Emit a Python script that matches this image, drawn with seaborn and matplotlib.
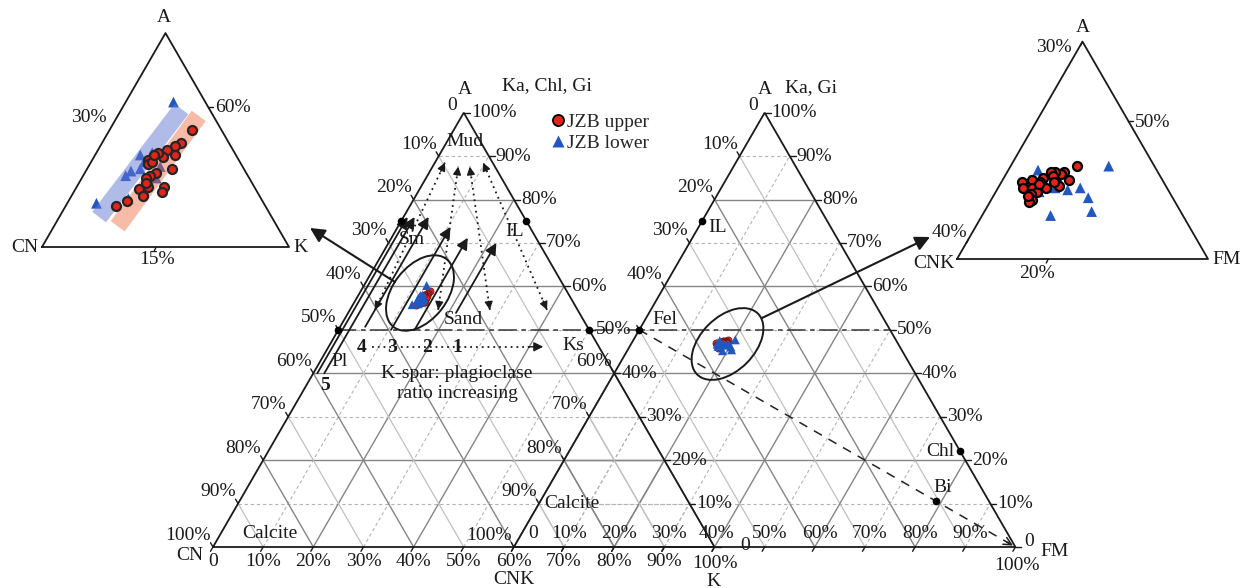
import numpy as np
import pandas as pd
import matplotlib
matplotlib.use("Agg")
import matplotlib.pyplot as plt
import seaborn as sns
from matplotlib.patches import Ellipse
from matplotlib.lines import Line2D

# ---------------- compositions (%) ----------------
# A-CN-K diagram
upper_A = [59.0, 58.4, 58.3, 58.1, 57.9, 57.8, 58.0, 57.7, 57.5, 57.6, 57.1, 57.3,
           57.0, 56.9, 56.6, 56.5, 56.4, 56.1, 56.5, 56.3, 55.9, 55.7, 57.9, 56.7]
upper_K = [13.8, 13.7, 13.5, 13.3, 13.7, 13.3, 13.0, 12.8, 12.9, 13.0, 13.4, 13.9,
           13.2, 13.1, 13.3, 13.4, 13.1, 13.4, 14.0, 14.0, 12.9, 12.6, 12.9, 13.2]
upper_CN = [27.2, 27.9, 28.2, 28.6, 28.4, 28.9, 29.0, 29.5, 29.6, 29.4, 29.5, 28.8,
            29.8, 30.0, 30.1, 30.1, 30.5, 30.5, 29.5, 29.7, 31.2, 31.7, 29.2, 30.1]
lower_A = [60.2, 55.8, 56.0, 57.0, 57.2, 57.3, 57.9, 57.6, 58.0, 57.4, 56.9, 56.4]
lower_K = [12.5, 11.8, 12.9, 12.3, 12.4, 12.7, 12.4, 12.7, 12.8, 13.4, 13.5, 13.3]
lower_CN = [27.3, 32.4, 31.1, 30.7, 30.4, 30.0, 29.7, 29.7, 29.2, 29.2, 29.6, 30.3]

# A-CNK-FM diagram
upper2_A = [47.7, 47.4, 47.3, 47.4, 47.4, 47.2, 46.9, 46.7, 47.0, 47.1, 46.9, 46.6,
            47.0, 46.9, 46.6, 46.6, 46.4, 46.3, 46.0, 45.9, 46.2, 46.8, 46.9]
upper2_FM = [18.9, 18.5, 18.4, 18.1, 17.9, 18.1, 18.4, 18.6, 18.9, 17.7, 17.7, 18.1,
             17.3, 16.9, 17.1, 17.5, 17.8, 17.6, 17.8, 17.7, 17.5, 17.7, 18.3]
upper2_CNK = [33.4, 34.1, 34.3, 34.5, 34.7, 34.7, 34.7, 34.7, 34.1, 35.2, 35.4, 35.3,
              35.7, 36.2, 36.3, 35.9, 35.8, 36.1, 36.2, 36.4, 36.3, 35.5, 34.8]
lower2_A = [47.7, 47.5, 47.0, 46.9, 46.4, 46.6, 46.5, 46.6, 46.1, 45.4, 45.2, 46.7, 46.2]
lower2_FM = [20.3, 17.3, 17.2, 17.7, 17.9, 18.5, 19.1, 19.6, 20.2, 20.7, 19.0, 17.2, 17.6]
lower2_CNK = [32.0, 35.2, 35.8, 35.4, 35.7, 34.9, 34.4, 33.8, 33.7, 33.9, 35.8, 36.1, 36.2]

# trend bands in the A-CN-K close-up (A, K at both ends)
band_lower_A = [55.2, 59.9]
band_lower_K = [12.2, 12.95]
band_upper_A = [54.8, 59.6]
band_upper_K = [13.1, 13.75]

# reference minerals (A, right-vertex share), fractions
acnk_minerals = {"Sm": (0.75, 0.0), "IL": (0.75, 0.25), "Pl": (0.5, 0.0), "Ks": (0.5, 0.5)}
acnkfm_minerals = {"IL": (0.75, 0.0), "Fel": (0.5, 0.0), "Chl": (0.22, 0.78), "Bi": (0.105, 0.79)}

# weathering trends (A, K) fractions: tail -> head
trend_A = [(0.40, 0.76), (0.40, 0.76), (0.507, 0.76), (0.50, 0.737), (0.50, 0.712), (0.539, 0.70)]
trend_K = [(0.008, 0.008), (0.022, 0.022), (0.05, 0.05), (0.105, 0.105), (0.152, 0.152), (0.215, 0.215)]
# sorting paths sand <-> mud (A, K) fractions: bottom, top
sort_A = [(0.546, 0.885), (0.546, 0.876), (0.546, 0.876), (0.546, 0.885)]
sort_K = [(0.050, 0.020), (0.176, 0.051), (0.279, 0.074), (0.393, 0.096)]

tick_pct = list(range(0, 101, 10))

# ---------------- helpers ----------------
S3 = np.sqrt(3) / 2
PX = 1 / 501.5          # one pixel in axis units
INK = "#1a1a1a"
RED = "#e3241b"
BLUE = "#2157c2"


def tri_xy(a, b, x0=0.0, y0=0.0, side=1.0):
    a = np.asarray(a, float)
    b = np.asarray(b, float)
    return x0 + side * (b + a / 2), y0 + side * a * S3


def P(px, py):
    return (px - 213) * PX, (547 - py) * PX


sns.set_theme(style="white")
plt.rcParams["font.family"] = ["Liberation Serif", "DejaVu Serif"]
FS = 14

fig = plt.figure(figsize=(12.41, 5.88), dpi=100)
ax = fig.add_axes([0, 0, 1, 1])
ax.set_xlim(-213 * PX, (1241 - 213) * PX)
ax.set_ylim(-41 * PX, 547 * PX)
ax.axis("off")


def txt(px, py, s, ha="center", va="center", **kw):
    x, y = P(px, py)
    ax.text(x, y, s, ha=ha, va=va, fontsize=kw.pop("fontsize", FS), color=INK, zorder=8, **kw)


# ---------------- main ternary grids ----------------
def grid(x0):
    for i in range(1, 10):
        t = i / 10
        if i % 2 == 0:
            solid = dict(color="#858585", lw=1.0, zorder=1)
            dash = solid
        else:
            solid = dict(color="#c0c0c0", lw=0.9, zorder=1)
            dash = dict(color="#b4b4b4", lw=0.8, ls=(0, (3, 2.5)), zorder=1)
        x, y = tri_xy([t, t], [0, 1 - t], x0)
        ax.plot(x, y, **dash)
        x, y = tri_xy([0, 1 - t], [t, t], x0)
        ax.plot(x, y, **dash)
        x, y = tri_xy([1 - t, 0], [0, 1 - t], x0)
        ax.plot(x, y, **solid)
    x, y = tri_xy([0, 1, 0, 0], [0, 0, 1, 0], x0)
    ax.plot(x, y, color=INK, lw=1.3, zorder=3, solid_joinstyle="miter")


def axis_labels(x0, base_above, skip_left=(), zero_dx=9, zero_dy=5):
    for p in tick_pct:
        t = p / 100
        lab = "0" if p == 0 else f"{p}%"
        # left edge (left-vertex share, 0 at top)
        x, y = tri_xy(1 - t, 0, x0)
        if p == 0:
            ax.text(x - 7 * PX, y + 7 * PX, lab, ha="right", va="center", fontsize=FS, color=INK, zorder=8)
        else:
            ax.plot([x, x - 2.5 * PX], [y, y + 4.3 * PX], color=INK, lw=1, zorder=3)
            if p not in skip_left:
                ax.text(x - 2 * PX, y + 12 * PX, lab, ha="right", va="center", fontsize=FS, color=INK, zorder=8)
        # right edge (A share)
        x, y = tri_xy(t, 1 - t, x0)
        ax.plot([x, x + 6 * PX], [y, y], color=INK, lw=1, zorder=3)
        if p == 0:
            ax.text(x + zero_dx * PX, y + zero_dy * PX, lab, ha="left", va="center", fontsize=FS, color=INK, zorder=8)
        else:
            ax.text(x + 7 * PX, y, lab, ha="left", va="center", fontsize=FS, color=INK, zorder=8)
        # base (right-vertex share)
        x, y = tri_xy(0, t, x0)
        ax.plot([x, x - 2.5 * PX], [y, y - 4.3 * PX], color=INK, lw=1, zorder=3)
        if base_above:
            if p < 100:
                dx = {0: 19, 40: 2}.get(p, 5)
                ax.text(x + dx * PX, y + 14 * PX, lab, ha="center", va="center", fontsize=FS, color=INK, zorder=8)
            else:
                ax.text(x + 2 * PX, y - 18 * PX, lab, ha="center", va="center", fontsize=FS, color=INK, zorder=8)
        else:
            dy = 17 if p == 100 else 14
            ax.text(x, y - dy * PX, lab, ha="center", va="center", fontsize=FS, color=INK, zorder=8)


grid(0.0)
grid(0.6)
axis_labels(0.0, base_above=False, zero_dx=26, zero_dy=1)
# the 50% mark on this edge shares its label with the neighbouring diagram
axis_labels(0.6, base_above=True, skip_left=(50,))

# feldspar join (A = 50%) across both diagrams
x1, y1 = tri_xy(0.5, 0.0, 0.0)
x2, y2 = tri_xy(0.5, 0.5, 0.6)
ax.plot([x1, x2], [y1, y2], color="#333333", lw=1.1, ls=(0, (12, 3, 3, 3)), zorder=4)

# feldspar -> FM dashed trend with open head
xs, ys = tri_xy([0.5, 0.0], [0.0, 1.0], 0.6)
ax.plot(xs, ys, color="#222222", lw=1.1, ls=(0, (6, 5)), zorder=4)
ax.annotate("", xy=(xs[1], ys[1]), xytext=(xs[1] - 0.03 * (xs[1] - xs[0]), ys[1] - 0.03 * (ys[1] - ys[0])),
            arrowprops=dict(arrowstyle="->", color="#222222", lw=1.1, mutation_scale=14), zorder=4)

# reference minerals
for name, (a, b) in acnk_minerals.items():
    x, y = tri_xy(a, b, 0.0)
    ax.plot(x, y, "o", color="black", ms=4.5, zorder=6)
for name, (a, b) in acnkfm_minerals.items():
    x, y = tri_xy(a, b, 0.6)
    ax.plot(x, y, "o", color="black", ms=4.5, zorder=6)

# weathering trends (solid, filled heads)
for (a0, a1), (k0, k1) in zip(trend_A, trend_K):
    xt, yt = tri_xy(a0, k0, 0.0)
    xh, yh = tri_xy(a1, k1, 0.0)
    ax.annotate("", xy=(xh, yh), xytext=(xt, yt),
                arrowprops=dict(arrowstyle="-|>", color=INK, lw=1.3, mutation_scale=17,
                                shrinkA=0, shrinkB=0), zorder=5)

# sorting paths (dotted, heads on both ends)
for (a0, a1), (k0, k1) in zip(sort_A, sort_K):
    xb, yb = tri_xy(a0, k0, 0.0)
    xt, yt = tri_xy(a1, k1, 0.0)
    ax.plot([xb, xt], [yb, yt], color=INK, lw=1.3, ls=(0, (1, 2.2)), zorder=5)
    for (xe, ye, xf, yf) in [(xt, yt, xb, yb), (xb, yb, xt, yt)]:
        ax.annotate("", xy=(xe, ye), xytext=(xe + 0.06 * (xf - xe), ye + 0.06 * (yf - ye)),
                    arrowprops=dict(arrowstyle="-|>", color=INK, lw=1.0, mutation_scale=12,
                                    shrinkA=0, shrinkB=0), zorder=5)

# K-spar : plagioclase ratio arrow
xa, ya = tri_xy(0.461, 0.087, 0.0)
xb, yb = tri_xy(0.461, 0.428, 0.0)
ax.plot([xa, xb], [ya, yb], color=INK, lw=1.3, ls=(0, (1, 2.2)), zorder=5)
ax.annotate("", xy=(xb, yb), xytext=(xb - 0.03, yb),
            arrowprops=dict(arrowstyle="-|>", color=INK, lw=1.0, mutation_scale=14,
                            shrinkA=0, shrinkB=0), zorder=5)

# sample clusters on the main diagrams
main_acnk = pd.concat([
    pd.DataFrame({"A": upper_A, "CN": upper_CN, "K": upper_K, "grp": "JZB upper"}),
    pd.DataFrame({"A": lower_A, "CN": lower_CN, "K": lower_K, "grp": "JZB lower"}),
])
main_acnk["x"], main_acnk["y"] = tri_xy(main_acnk["A"] / 100, main_acnk["K"] / 100, 0.0)
main_fm = pd.concat([
    pd.DataFrame({"A": upper2_A, "CNK": upper2_CNK, "FM": upper2_FM, "grp": "JZB upper"}),
    pd.DataFrame({"A": lower2_A, "CNK": lower2_CNK, "FM": lower2_FM, "grp": "JZB lower"}),
])
main_fm["x"], main_fm["y"] = tri_xy(main_fm["A"] / 100, main_fm["FM"] / 100, 0.6)
for df in (main_acnk, main_fm):
    sns.scatterplot(data=df[df.grp == "JZB upper"], x="x", y="y", marker="o", color=RED,
                    edgecolor="#5a1010", linewidth=0.5, s=26, ax=ax, zorder=6, legend=False)
    sns.scatterplot(data=df[df.grp == "JZB lower"], x="x", y="y", marker="^", color=BLUE,
                    edgecolor="none", s=42, ax=ax, zorder=6, legend=False)

# ellipses and pointers to the close-ups
for (cx, cy), ang in [(P(420, 293), 52), (P(727.5, 344), 45)]:
    ax.add_patch(Ellipse((cx, cy), 86 * PX, 54 * PX, angle=ang, fill=False, ec=INK, lw=1.4, zorder=6))
ax.annotate("", xy=P(310, 228), xytext=P(395, 282),
            arrowprops=dict(arrowstyle="-|>", color=INK, lw=1.5, mutation_scale=22, shrinkA=0, shrinkB=0), zorder=6)
ax.annotate("", xy=P(930, 237), xytext=P(762, 318),
            arrowprops=dict(arrowstyle="-|>", color=INK, lw=1.5, mutation_scale=22, shrinkA=0, shrinkB=0), zorder=6)


# ---------------- close-up ternaries ----------------
def closeup(x0, y0, side, a0, b0, s, edge_ticks):
    xt, yt = tri_xy([0, 1, 0, 0], [0, 0, 1, 0], x0, y0, side)
    ax.plot(xt, yt, color=INK, lw=1.3, zorder=3)
    for kind, val in edge_ticks:
        if kind == "left":
            x, y = tri_xy(val, 0, x0, y0, side)
            ax.plot([x, x - 2 * PX], [y, y - 4 * PX], color=INK, lw=1, zorder=3)
        elif kind == "right":
            x, y = tri_xy(val, 1 - val, x0, y0, side)
            ax.plot([x, x + 5 * PX], [y, y], color=INK, lw=1, zorder=3)
        else:
            x, y = tri_xy(0, val, x0, y0, side)
            ax.plot([x, x - 2 * PX], [y, y - 4 * PX], color=INK, lw=1, zorder=3)
    return lambda A_, B_: tri_xy((np.asarray(A_) - a0) / s, (np.asarray(B_) - b0) / s, x0, y0, side)


# A-CN-K close-up: origin A0=53.9, K0=10.7, span 9.3
z1 = closeup(*P(42, 247), 247 * PX, 53.9, 10.7, 9.3,
             [("left", (100 - 30 - 26.1 - 10.7) / 9.3), ("right", (60 - 53.9) / 9.3),
              ("base", (15 - 10.7) / 9.3)])
lx, ly = z1(lower_A, lower_K)
ux, uy = z1(upper_A, upper_K)
sns.scatterplot(x=lx, y=ly, marker="^", color=BLUE, edgecolor="none", s=60, ax=ax, zorder=5, legend=False)
bx, by = z1(band_lower_A, band_lower_K)
ax.plot(bx, by, color="#6478d2", lw=12.5, alpha=0.5, solid_capstyle="butt", zorder=5.5)
bx, by = z1(band_upper_A, band_upper_K)
ax.plot(bx, by, color="#ee6a3c", lw=12.5, alpha=0.45, solid_capstyle="butt", zorder=5.5)
sns.scatterplot(x=ux, y=uy, marker="o", color=RED, edgecolor="#262626", linewidth=1.6, s=42, ax=ax, zorder=6, legend=False)

# A-CNK-FM close-up: origin A0=43, FM0=16, span 11
z2 = closeup(*P(957, 259), 251 * PX, 43.0, 16.0, 11.0,
             [("left", 1 - (40 - 30) / 11), ("right", (50 - 43) / 11), ("base", (20 - 16) / 11),
              ("left", 1.0)])
lx, ly = z2(lower2_A, lower2_FM)
ux, uy = z2(upper2_A, upper2_FM)
sns.scatterplot(x=lx, y=ly, marker="^", color=BLUE, edgecolor="none", s=60, ax=ax, zorder=6, legend=False)
sns.scatterplot(x=ux, y=uy, marker="o", color=RED, edgecolor="black", linewidth=1.6, s=42, ax=ax, zorder=6, legend=False)

# ---------------- text ----------------
txt(465, 90, "A")
txt(765, 90, "A")
txt(547, 86, "Ka, Chl, Gi")
txt(811, 88, "Ka, Gi")
txt(203, 555, "CN", ha="right")
txt(514, 579, "CNK")
txt(713, 581, "K")
txt(1040, 552, "FM", ha="left")
txt(465, 142, "Mud")
txt(412, 240, "Sm")
txt(515, 231, "IL")
txt(463, 320, "Sand")
txt(573, 345, "Ks")
txt(340, 362, "Pl")
for s_, px_ in zip(["4", "3", "2", "1"], [362, 392, 427, 457]):
    txt(px_, 347, s_, fontweight="bold")
txt(325, 385, "5", fontweight="bold")
txt(457, 373, "K-spar: plagioclase")
txt(457, 394, "ratio increasing")
txt(270, 533, "Calcite")
txt(572, 503, "Calcite")
txt(718, 228, "IL")
txt(665, 320, "Fel")
txt(940, 451, "Chl")
txt(943, 488, "Bi")

# close-up labels
txt(164, 18, "A")
txt(25, 247, "CN")
txt(293, 247, "K", ha="left")
txt(107, 118, "30%", ha="right")
txt(215, 108, "60%", ha="left")
txt(157, 260, "15%")
txt(1083, 28, "A")
txt(1072, 48, "30%", ha="right")
txt(1135, 123, "50%", ha="left")
txt(967, 233, "40%", ha="right")
txt(955, 264, "CNK", ha="right")
txt(1212, 259, "FM", ha="left")
txt(1037, 273, "20%")

# legend
handles = [Line2D([], [], ls="none", marker="o", color=RED, mec="black", mew=1.3, ms=8),
           Line2D([], [], ls="none", marker="^", color=BLUE, mec="none", ms=8.5)]
ax.legend(handles, ["JZB upper", "JZB lower"], loc="upper left",
          bbox_to_anchor=(552 / 1241, 1 - 113 / 588), bbox_transform=fig.transFigure,
          frameon=False, fontsize=FS, handlelength=0.6, handletextpad=0.15,
          labelspacing=0.2, borderpad=0, borderaxespad=0)

fig.savefig("out.png", dpi=100)
